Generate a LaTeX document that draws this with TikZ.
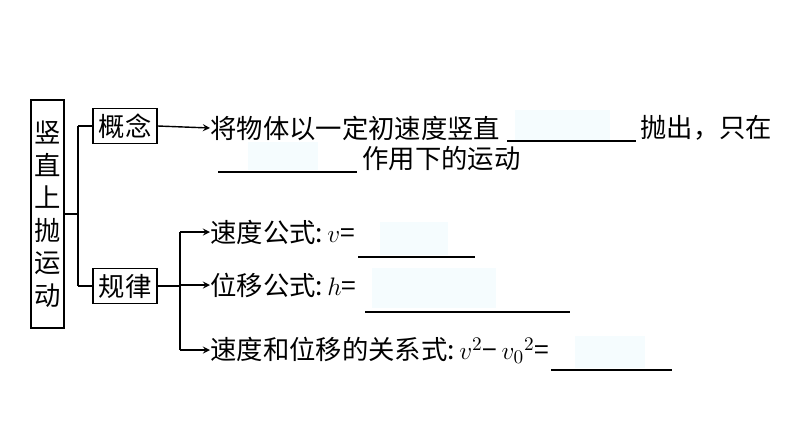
\documentclass[tikz,border=0pt]{standalone}
\usepackage{fontspec}
\newfontfamily\cjk{Noto Sans CJK SC}
\usetikzlibrary{positioning}
\tikzset{%
  box/.style   = {draw, thick, inner sep=2pt, font=\cjk\fontsize{15}{18.5}\selectfont},%
  txt/.style   = {anchor=west, inner sep=0pt, font=\cjk\fontsize{15}{18}\selectfont},%
  blank/.style = {fill=cyan!4, draw=none},%
  arr/.style   = {->, >=stealth, thick}%
}
\begin{document}
\begin{tikzpicture}[x=0.02cm, y=-0.02cm]
  \useasboundingbox (0,0) rectangle (794,447);
  % left title
  \node[box, minimum width=31*0.02cm, minimum height=228*0.02cm, align=center] (title) at (47.5,214)
    {竖\\直\\上\\抛\\运\\动};
  \node[box, minimum width=64*0.02cm, minimum height=35*0.02cm] (gn) at (125,126) {概念};
  \node[box, minimum width=64*0.02cm, minimum height=35*0.02cm] (gl) at (125,286) {规律};
  \coordinate (j1) at (78,214);
  \draw[thick] (title.east |- j1) -- (j1) (gn.west -| j1) -- (gl.west -| j1);
  \draw[thick] (gn.west -| j1) -- (gn.west) (gl.west -| j1) -- (gl.west);
  % concept
  \node[txt] (c1) at (210,128) {将物体以一定初速度竖直};
  \node[txt] (c2) at (640,128) {抛出，只在};
  \node[txt] (c3) at (362,158) {作用下的运动};
  \draw[arr] (gn.east) -- (c1.west);
  \fill[blank] (515,110) rectangle (610,140);
  \fill[blank] (248,142) rectangle (318,170);
  \draw[thick] (507,141) -- (636,141) (218,172) -- (357,172);
  % laws
  \coordinate (j2) at (180,286);
  \node[txt] (l1) at (210,232) {速度公式:\,$v$=};
  \node[txt] (l2) at (210,285) {位移公式:\,$h$=};
  \node[txt] (l3) at (210,350) {速度和位移的关系式:\,$v^2$−\,$v_0{}^2$=};
  \draw[thick] (gl.east) -- (j2) (j2 |- l1.west) -- (j2 |- l3.west);
  \foreach \n in {l1,l2,l3} \draw[arr] (j2 |- \n.west) -- (\n.west);
  \fill[blank] (380,222) rectangle (448,255);
  \fill[blank] (372,268) rectangle (496,308);
  \fill[blank] (575,336) rectangle (645,368);
  \draw[thick] (358,257) -- (475,257) (365,312) -- (570,312) (551,370) -- (672,370);
\end{tikzpicture}
\end{document}
